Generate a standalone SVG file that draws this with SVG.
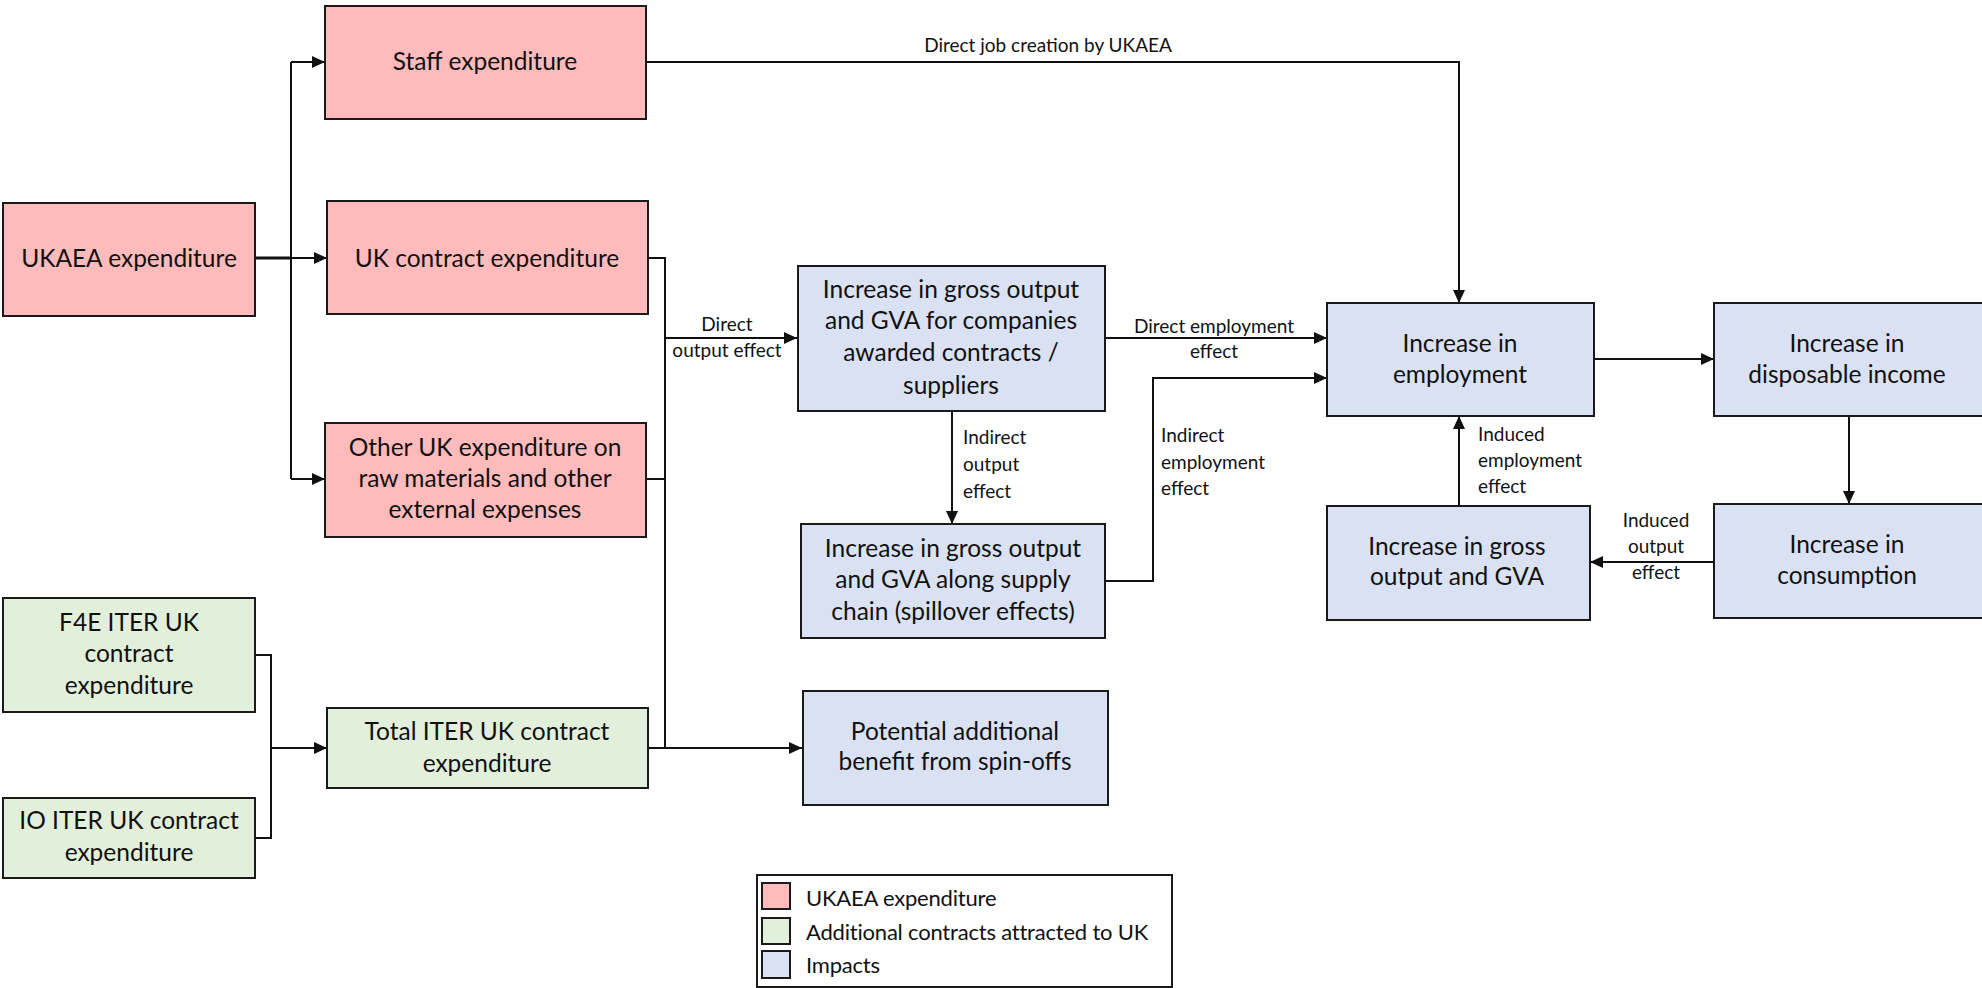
<svg xmlns="http://www.w3.org/2000/svg" width="1982" height="988" viewBox="0 0 1982 988">
<style>
.n rect{stroke:#1a1a1a;stroke-width:2}
.red rect{fill:#FFBBBB}
.grn rect{fill:#E2EFDA}
.blu rect{fill:#D9E1F2}
.t{font-family:"Lato","Liberation Sans",sans-serif;font-size:24.5px;fill:#111;text-anchor:middle}
.l{font-family:"Lato","Liberation Sans",sans-serif;font-size:19px;fill:#111}
.c{text-anchor:middle}
.e path{fill:none;stroke:#111;stroke-width:2}
.lg{font-family:"Lato","Liberation Sans",sans-serif;font-size:22px;letter-spacing:-0.2px;fill:#111}
</style>
<defs>
<marker id="a" markerUnits="userSpaceOnUse" markerWidth="13" markerHeight="12" refX="13" refY="6" orient="auto">
<path d="M0,0 L13,6 L0,12 z" fill="#111"/>
</marker>
</defs>
<rect width="1982" height="988" fill="#fff"/>
<g id="edges" class="e">
<path d="M255,258 H291" style="stroke-width:3"/>
<path d="M291,62 V479"/>
<path d="M291,62 H325" marker-end="url(#a)"/>
<path d="M291,258 H327" marker-end="url(#a)"/>
<path d="M291,479 H325" marker-end="url(#a)"/>
<path d="M646,62 H1459 V303" marker-end="url(#a)"/>
<path d="M648,258 H665 V748"/>
<path d="M646,479 H665"/>
<path d="M665,338 H797" marker-end="url(#a)"/>
<path d="M648,748 H802" marker-end="url(#a)"/>
<path d="M255,655 H271 V838 H255"/>
<path d="M271,748 H327" marker-end="url(#a)"/>
<path d="M952,411 V524" marker-end="url(#a)"/>
<path d="M1105,338 H1327" marker-end="url(#a)"/>
<path d="M1105,581 H1153 V378 H1327" marker-end="url(#a)"/>
<path d="M1594,359 H1714" marker-end="url(#a)"/>
<path d="M1849,416 V504" marker-end="url(#a)"/>
<path d="M1714,562 H1590" marker-end="url(#a)"/>
<path d="M1459,506 V416" marker-end="url(#a)"/>
</g>
<g id="edge-labels">
<text class="l c" x="1048" y="52">Direct job creation by UKAEA</text>
<text class="l c" x="727" y="331">Direct</text>
<text class="l c" x="727" y="357">output effect</text>
<text class="l c" x="1214" y="333">Direct employment</text>
<text class="l c" x="1214" y="358">effect</text>
<text class="l" x="963" y="444">Indirect</text>
<text class="l" x="963" y="471">output</text>
<text class="l" x="963" y="498">effect</text>
<text class="l" x="1161" y="442">Indirect</text>
<text class="l" x="1161" y="469">employment</text>
<text class="l" x="1161" y="495">effect</text>
<text class="l" x="1478" y="441">Induced</text>
<text class="l" x="1478" y="467">employment</text>
<text class="l" x="1478" y="493">effect</text>
<text class="l c" x="1656" y="527">Induced</text>
<text class="l c" x="1656" y="553">output</text>
<text class="l c" x="1656" y="579">effect</text>
</g>
<g id="ukaea" class="n red"><rect x="3" y="203" width="252" height="113"/><text class="t" x="129" y="267">UKAEA expenditure</text></g>
<g id="staff" class="n red"><rect x="325" y="6" width="321" height="113"/><text class="t" x="485" y="70">Staff expenditure</text></g>
<g id="ukcontract" class="n red"><rect x="327" y="201" width="321" height="113"/><text class="t" x="487" y="267">UK contract expenditure</text></g>
<g id="otheruk" class="n red"><rect x="325" y="423" width="321" height="114"/><text class="t" x="485" y="456">Other UK expenditure on</text><text class="t" x="485" y="487">raw materials and other</text><text class="t" x="485" y="518">external expenses</text></g>
<g id="f4e" class="n grn"><rect x="3" y="598" width="252" height="114"/><text class="t" x="129" y="631">F4E ITER UK</text><text class="t" x="129" y="662">contract</text><text class="t" x="129" y="694">expenditure</text></g>
<g id="io" class="n grn"><rect x="3" y="798" width="252" height="80"/><text class="t" x="129" y="829">IO ITER UK contract</text><text class="t" x="129" y="861">expenditure</text></g>
<g id="totaliter" class="n grn"><rect x="327" y="708" width="321" height="80"/><text class="t" x="487" y="740">Total ITER UK contract</text><text class="t" x="487" y="772">expenditure</text></g>
<g id="grossoutput" class="n blu"><rect x="798" y="266" width="307" height="145"/><text class="t" x="951" y="298">Increase in gross output</text><text class="t" x="951" y="329">and GVA for companies</text><text class="t" x="951" y="361">awarded contracts /</text><text class="t" x="951" y="394">suppliers</text></g>
<g id="supplychain" class="n blu"><rect x="801" y="524" width="304" height="114"/><text class="t" x="953" y="557">Increase in gross output</text><text class="t" x="953" y="588">and GVA along supply</text><text class="t" x="953" y="620">chain (spillover effects)</text></g>
<g id="spinoffs" class="n blu"><rect x="803" y="691" width="305" height="114"/><text class="t" x="955" y="740">Potential additional</text><text class="t" x="955" y="770">benefit from spin-offs</text></g>
<g id="employment" class="n blu"><rect x="1327" y="303" width="267" height="113"/><text class="t" x="1460" y="352">Increase in</text><text class="t" x="1460" y="383">employment</text></g>
<g id="disposable" class="n blu"><rect x="1714" y="303" width="275" height="113"/><text class="t" x="1847" y="352">Increase in</text><text class="t" x="1847" y="383">disposable income</text></g>
<g id="consumption" class="n blu"><rect x="1714" y="504" width="275" height="114"/><text class="t" x="1847" y="553">Increase in</text><text class="t" x="1847" y="584">consumption</text></g>
<g id="grossgva" class="n blu"><rect x="1327" y="506" width="263" height="114"/><text class="t" x="1457" y="555">Increase in gross</text><text class="t" x="1457" y="585">output  and GVA</text></g>
<g id="legend">
<rect x="757" y="875" width="415" height="112" fill="#fff" stroke="#1a1a1a" stroke-width="2"/>
<rect x="762" y="883" width="28" height="26" fill="#FFBBBB" stroke="#1a1a1a" stroke-width="2"/>
<rect x="762" y="918" width="28" height="26" fill="#E2EFDA" stroke="#1a1a1a" stroke-width="2"/>
<rect x="762" y="951" width="28" height="27" fill="#D9E1F2" stroke="#1a1a1a" stroke-width="2"/>
<text class="lg" x="806" y="906">UKAEA expenditure</text>
<text class="lg" x="806" y="940">Additional contracts attracted to UK</text>
<text class="lg" x="806" y="973">Impacts</text>
</g>
</svg>
